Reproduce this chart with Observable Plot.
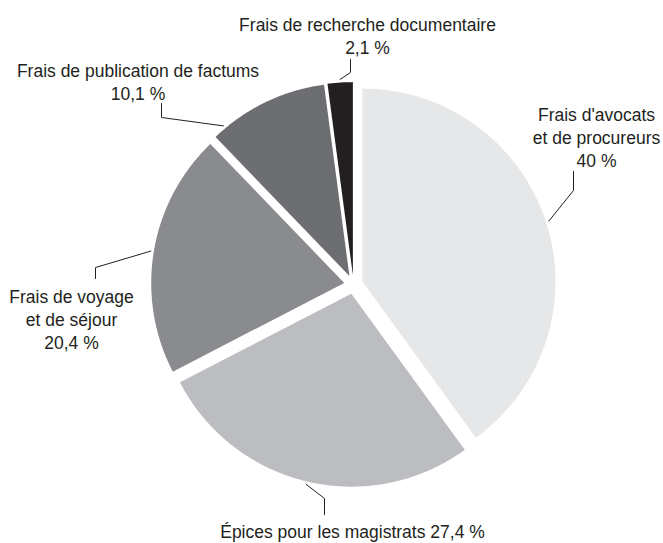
<!DOCTYPE html>
<html><head><meta charset="utf-8">
<script src="https://cdn.jsdelivr.net/npm/d3@7"></script>
<script src="https://cdn.jsdelivr.net/npm/@observablehq/plot@0.6"></script>
<style>body{margin:0;background:#fff} #chart{width:663px;height:543px}</style>
</head><body><div id="chart"></div>
<script>
// ---- data ----
const categories = ["Frais d'avocats et de procureurs", "Épices pour les magistrats", "Frais de voyage et de séjour", "Frais de publication de factums", "Frais de recherche documentaire"];
const values = [40, 27.4, 20.4, 10.1, 2.1];
const valueLabels = ["40 %", "27,4 %", "20,4 %", "10,1 %", "2,1 %"];
const labelTexts = [
  "Frais d'avocats\net de procureurs\n40 %",
  "Épices pour les magistrats 27,4 %",
  "Frais de voyage\net de séjour\n20,4 %",
  "Frais de publication de factums\n10,1 %",
  "Frais de recherche documentaire\n2,1 %"
];
const colors = ["#e6e7e8", "#bcbdc0", "#8a8b8f", "#6d6e72", "#231f20"];

// ---- layout (pixels) ----
const W = 663, H = 543, cx = 353, cy = 284, R = 193, explode = 9.4;
const labelPos = [
  {x: 596, y: 104.6, angle: null, elbow: [573, 190], end: [573, 171]},
  {x: 352, y: 521,   angle: null, elbow: [324, 498], end: [324, 514]},
  {x: 71,  y: 286.6, angle: null, elbow: [95, 267],  end: [95, 278]},
  {x: 137.5, y: 60.6, angle: 320, elbow: [161, 117], end: [161, 103]},
  {x: 367, y: 14.6,  angle: null, elbow: [350, 72],  end: [350, 59]}
];

const total = d3.sum(values);
const rad = d => d * Math.PI / 180;
const slicePts = [], leaderPts = [], labels = [];
let acc = 0;
values.forEach((v, i) => {
  const a0 = acc / total * 360, a1 = (acc + v) / total * 360;
  acc += v;
  const mid = (a0 + a1) / 2;
  const ox = cx + explode * Math.sin(rad(mid));
  const oy = cy - explode * Math.cos(rad(mid));
  const cat = categories[i];
  slicePts.push({cat, x: ox, y: oy});
  const n = Math.max(2, Math.ceil((a1 - a0) / 0.5));
  for (let k = 0; k <= n; k++) {
    const a = a0 + (a1 - a0) * k / n;
    slicePts.push({cat, x: ox + R * Math.sin(rad(a)), y: oy - R * Math.cos(rad(a))});
  }
  slicePts.push({cat, x: ox, y: oy});
  const L = labelPos[i];
  const la = L.angle ?? mid;
  leaderPts.push({cat, x: ox + (R + 3) * Math.sin(rad(la)), y: oy - (R + 3) * Math.cos(rad(la))});
  leaderPts.push({cat, x: L.elbow[0], y: L.elbow[1]});
  leaderPts.push({cat, x: L.end[0], y: L.end[1]});
  labels.push({cat, x: L.x, y: L.y, text: labelTexts[i], value: valueLabels[i]});
});

const chart = Plot.plot({
  width: W, height: H, margin: 0,
  style: {fontFamily: "'Liberation Sans', Arial, sans-serif", background: "#fff"},
  x: {domain: [0, W], axis: null},
  y: {domain: [0, H], reverse: true, axis: null},
  color: {domain: categories, range: colors},
  marks: [
    Plot.line(slicePts, {x: "x", y: "y", z: "cat", fill: "cat", stroke: "none", curve: "linear"}),
    Plot.line(leaderPts, {x: "x", y: "y", z: "cat", stroke: "#231f20", strokeWidth: 1, curve: "linear"}),
    Plot.text(labels, {x: "x", y: "y", text: "text", lineAnchor: "top", lineHeight: 1.3, fontSize: 17.5, fill: "#231f20", textAnchor: "middle"})
  ]
});
document.getElementById("chart").append(chart);
</script>
</body></html>
